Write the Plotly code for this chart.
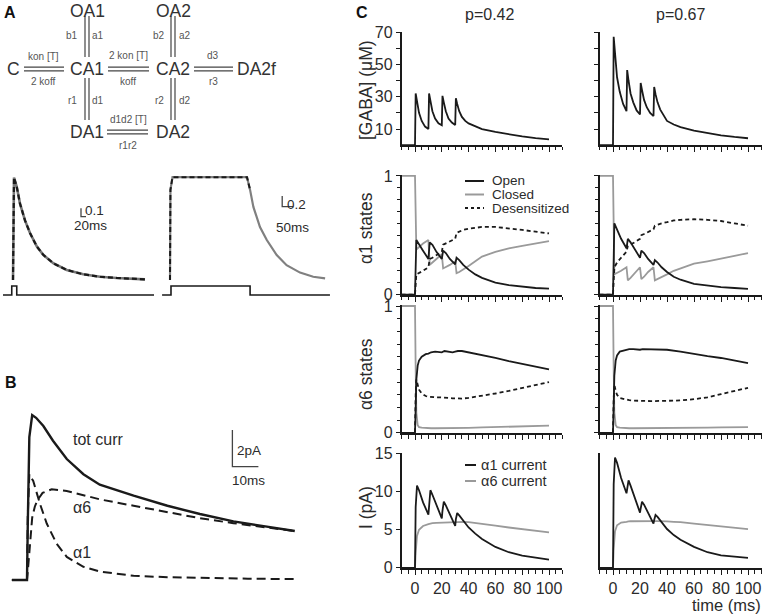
import plotly.graph_objects as go

W, H = 767, 616

# ---------------- Panel C data (time in ms) ----------------
T_GABA = [-10, 0, 0.5, 1.5, 3, 5, 7.5, 10, 10.5, 11.5, 13, 15, 17.5, 20, 20.5, 21.5, 23, 25, 27.5, 30,
          30.5, 31.5, 33, 35, 37.5, 40, 45, 50, 60, 70, 80, 90, 100]
GABA_P042 = [0, 0, 32, 27, 20, 15, 11.5, 10, 32, 27.5, 21, 16.5, 13.5, 12.3, 30.5, 26.5, 21, 16.5, 14, 12.5,
             29, 25.5, 21, 17.5, 15, 13.5, 11.5, 10, 8.2, 6.6, 5.4, 4.4, 3.6]
GABA_P067 = [0, 0, 67, 55, 42, 33, 25.5, 21, 46.5, 40, 32, 26.5, 21.5, 19, 38.5, 34, 28, 23.5, 20, 18,
             36, 31.5, 26.5, 22, 18.5, 15, 12.8, 11.2, 9.0, 7.4, 6.1, 5.1, 4.3]

T_A1 = [-10, 0, 1, 3, 6, 10, 11, 13, 16, 20, 21, 23, 26, 30, 31, 33, 36, 40, 45, 50, 60, 70, 80, 90, 100]
OPEN_A1_P042 = [0, 0, 0.46, 0.42, 0.37, 0.30, 0.44, 0.42, 0.36, 0.30, 0.37, 0.35, 0.30, 0.255, 0.31, 0.29, 0.25,
                0.21, 0.17, 0.14, 0.10, 0.08, 0.065, 0.055, 0.05]
CLOSED_A1_P042 = [1, 1, 0.38, 0.40, 0.43, 0.46, 0.25, 0.27, 0.30, 0.34, 0.22, 0.23, 0.25, 0.28, 0.18, 0.19, 0.21,
                  0.24, 0.28, 0.32, 0.36, 0.39, 0.41, 0.43, 0.45]
DES_A1_P042 = [0, 0, 0.17, 0.18, 0.20, 0.23, 0.30, 0.31, 0.33, 0.36, 0.42, 0.43, 0.45, 0.47, 0.52, 0.53, 0.545,
               0.555, 0.565, 0.57, 0.57, 0.56, 0.545, 0.53, 0.515]
OPEN_A1_P067 = [0, 0, 0.60, 0.55, 0.47, 0.39, 0.47, 0.44, 0.38, 0.31, 0.37, 0.35, 0.30, 0.25, 0.29, 0.27, 0.23,
                0.19, 0.15, 0.125, 0.09, 0.075, 0.063, 0.055, 0.047]
CLOSED_A1_P067 = [1, 1, 0.17, 0.18, 0.20, 0.23, 0.12, 0.14, 0.18, 0.23, 0.13, 0.15, 0.19, 0.23, 0.12, 0.13, 0.15,
                  0.17, 0.20, 0.22, 0.26, 0.28, 0.30, 0.325, 0.35]
DES_A1_P067 = [0, 0, 0.23, 0.27, 0.31, 0.36, 0.41, 0.42, 0.44, 0.47, 0.50, 0.51, 0.53, 0.55, 0.58, 0.59, 0.60,
               0.61, 0.625, 0.63, 0.635, 0.63, 0.62, 0.60, 0.58]

T_A6 = [-10, 0, 0.5, 1, 2, 3, 5, 8, 10, 12, 15, 18, 20, 22, 25, 28, 30, 32, 35, 40, 50, 60, 70, 80, 90, 100]
OPEN_A6_P042 = [0, 0, 0.2, 0.42, 0.53, 0.57, 0.60, 0.62, 0.625, 0.635, 0.64, 0.635, 0.635, 0.645, 0.64, 0.635,
                0.64, 0.645, 0.645, 0.635, 0.615, 0.59, 0.565, 0.545, 0.52, 0.50]
DES_A6_P042 = [0, 0, 0.3, 0.42, 0.38, 0.34, 0.31, 0.29, 0.285, 0.282, 0.28, 0.28, 0.28, 0.278, 0.275, 0.272,
               0.27, 0.27, 0.27, 0.275, 0.29, 0.31, 0.33, 0.355, 0.38, 0.40]
CLOSED_A6_P042 = [1, 1, 0.5, 0.16, 0.06, 0.045, 0.04, 0.037, 0.036, 0.036, 0.036, 0.036, 0.036, 0.036, 0.037,
                  0.037, 0.037, 0.037, 0.038, 0.039, 0.042, 0.045, 0.048, 0.051, 0.054, 0.057]
OPEN_A6_P067 = [0, 0, 0.22, 0.45, 0.57, 0.61, 0.64, 0.65, 0.655, 0.66, 0.66, 0.655, 0.655, 0.66, 0.66, 0.655,
                0.655, 0.66, 0.66, 0.655, 0.64, 0.62, 0.605, 0.59, 0.57, 0.55]
DES_A6_P067 = [0, 0, 0.27, 0.38, 0.33, 0.30, 0.275, 0.265, 0.26, 0.257, 0.254, 0.252, 0.25, 0.25, 0.25, 0.25,
               0.25, 0.25, 0.25, 0.25, 0.255, 0.265, 0.28, 0.305, 0.33, 0.355]
CLOSED_A6_P067 = [1, 1, 0.5, 0.16, 0.06, 0.045, 0.04, 0.037, 0.036, 0.036, 0.036, 0.036, 0.036, 0.036, 0.037,
                  0.037, 0.037, 0.037, 0.037, 0.038, 0.039, 0.04, 0.041, 0.042, 0.043, 0.044]

T_I = [-10, 0, 0.5, 1.5, 3, 6, 10, 10.5, 11.5, 13, 16, 20, 20.5, 21.5, 23, 26, 30, 30.5, 31.5, 33, 36, 40,
       45, 50, 60, 70, 80, 90, 100]
I_A1_P042 = [0, 0, 8, 10.8, 10.2, 8.6, 7.0, 8.5, 10.2, 9.6, 8.2, 6.5, 7.5, 8.7, 8.2, 7.0, 5.5, 6.4, 7.2, 6.9,
             6.2, 5.3, 4.5, 3.8, 2.75, 2.05, 1.6, 1.3, 1.08]
I_A6_P042 = [0, 0, 2.0, 4.2, 5.0, 5.5, 5.75, 5.78, 5.82, 5.87, 5.92, 5.95, 5.95, 5.97, 5.98, 6.0, 6.0, 6.0,
             6.02, 6.03, 6.03, 6.0, 5.9, 5.8, 5.55, 5.3, 5.1, 4.9, 4.65]
I_A1_P067 = [0, 0, 11, 14.5, 13.8, 11.8, 9.8, 10.5, 11.5, 10.8, 9.2, 7.25, 7.8, 8.7, 8.3, 7.2, 5.8, 6.3, 6.95,
             6.7, 6.0, 5.1, 4.3, 3.7, 2.75, 2.05, 1.65, 1.45, 1.3]
I_A6_P067 = [0, 0, 2.5, 4.8, 5.6, 5.95, 6.05, 6.08, 6.1, 6.12, 6.14, 6.15, 6.15, 6.15, 6.15, 6.15, 6.15, 6.15,
             6.15, 6.15, 6.15, 6.1, 6.05, 6.0, 5.8, 5.6, 5.45, 5.25, 5.08]

C_TITLES = ["p=0.42", "p=0.67"]
C_YTITLES = ["[GABA] (\u03bcM)", "\u03b11 states", "\u03b16 states", "I (pA)"]
X_TICKS = [0, 20, 40, 60, 80, 100]

# ---------------- Panel B data ----------------
T_B_TOT = [-5.8, 0, 0.3, 0.9, 2.0, 3.5, 6.3, 10, 15.3, 21.7, 28, 41, 54, 66.5, 79.4, 92, 103]
I_B_TOT = [0, 0, 3, 7.8, 9.0, 8.85, 8.4, 7.6, 6.6, 5.77, 5.2, 4.6, 4.05, 3.6, 3.2, 2.92, 2.67]
T_B_A6 = [-5.8, 0, 0.5, 1, 2, 3, 4, 6, 9.5, 15.3, 28, 41, 54, 66.5, 79.4, 92, 103]
I_B_A6 = [0, 0, 0.8, 1.8, 3.4, 4.0, 4.35, 4.75, 4.95, 4.86, 4.4, 4.05, 3.69, 3.37, 3.1, 2.88, 2.67]
T_B_A1 = [-5.8, 0, 0.3, 0.9, 2.4, 5, 7.6, 11.4, 15.3, 21.7, 28, 41, 54, 70, 85, 103]
I_B_A1 = [0, 0, 3.5, 5.77, 5.4, 4.15, 3.08, 1.98, 1.26, 0.72, 0.46, 0.23, 0.15, 0.1, 0.07, 0.05]
SCALE_B = (79, 6.18, 10, 2)  # t0, v0, dt (ms), dv (pA)

# ---------------- Panel A data ----------------
T_A_BRIEF = [0, 4, 15, 28, 48, 68, 95, 121, 161, 215, 281, 348, 415, 528]
V_A_BRIEF = [0, 1.22, 1.11, 0.91, 0.71, 0.56, 0.40, 0.30, 0.20, 0.12, 0.068, 0.039, 0.024, 0.008]
STIM_BRIEF_T = [-40, -5, -5, 15, 15, 564]
STIM_BRIEF_V = [0, 0, 1, 1, 0, 0]
SCALE_A_BRIEF = (272, 0.754, 20, 0.1)

T_A_LONG = [0, 2, 11.4, 350, 364, 379, 409, 440, 485, 530, 591, 651, 705]
V_A_LONG = [0, 1.7, 1.94, 1.94, 1.70, 1.38, 1.00, 0.755, 0.47, 0.28, 0.14, 0.062, 0.032]
STIM_LONG_T = [-36, 4.5, 4.5, 364, 364, 727]
STIM_LONG_V = [0, 0, 1, 1, 0, 0]
SCALE_A_LONG = (510, 1.383, 50, 0.2)

# kinetic scheme
STATES = [("OA1", 87, 11), ("OA2", 173, 11), ("C", 13, 69), ("CA1", 87, 69), ("CA2", 173, 69),
          ("DA2f", 256, 69), ("DA1", 87, 132), ("DA2", 173, 132)]
RATES = [("kon [T]", 43, 56), ("2 koff", 43, 82), ("2 kon [T]", 128, 55), ("koff", 128, 82),
         ("d3", 213, 55), ("r3", 213, 82), ("b1", 72, 36), ("a1", 98, 36), ("b2", 159, 36),
         ("a2", 185, 36), ("r1", 72, 100), ("d1", 98, 100), ("r2", 159, 100), ("d2", 185, 100),
         ("d1d2 [T]", 128, 120), ("r1r2", 128, 145)]
H_LINKS = [(24, 64, 69), (108, 149, 69), (194, 233, 69), (107, 148, 132)]
V_LINKS = [(87, 16, 57), (87, 78, 120), (173, 16, 57), (173, 78, 120)]

# ---------------- styling ----------------
FONT = "Liberation Sans, Arial, sans-serif"
TXT = "#2b2b2b"
BLACK = "#1a1a1a"
GRAY = "#9a9a9a"


def px(x):
    return x / W


def py(y):
    return 1 - y / H


fig = go.Figure()
layout = dict(width=W, height=H, margin=dict(l=0, r=0, t=0, b=0), template="none",
              paper_bgcolor="white", plot_bgcolor="rgba(0,0,0,0)", showlegend=False,
              font=dict(family=FONT, color=TXT, size=14))

COLS = [(401.6, 562.4), (599.5, 761.5)]
ROWS = [(32, 145.2, [0, 70]), (175, 295, [-0.004, 1.008]), (305, 433.3, [-0.004, 1.008]),
        (453.3, 568.3, [-0.06, 15.05])]

panel_series = [
    [[(T_GABA, GABA_P042, BLACK, None)], [(T_GABA, GABA_P067, BLACK, None)]],
    [[(T_A1, CLOSED_A1_P042, GRAY, None), (T_A1, DES_A1_P042, BLACK, "4px,3px"), (T_A1, OPEN_A1_P042, BLACK, None)],
     [(T_A1, CLOSED_A1_P067, GRAY, None), (T_A1, DES_A1_P067, BLACK, "4px,3px"), (T_A1, OPEN_A1_P067, BLACK, None)]],
    [[(T_A6, CLOSED_A6_P042, GRAY, None), (T_A6, DES_A6_P042, BLACK, "4px,3px"), (T_A6, OPEN_A6_P042, BLACK, None)],
     [(T_A6, CLOSED_A6_P067, GRAY, None), (T_A6, DES_A6_P067, BLACK, "4px,3px"), (T_A6, OPEN_A6_P067, BLACK, None)]],
    [[(T_I, I_A6_P042, GRAY, None), (T_I, I_A1_P042, BLACK, None)],
     [(T_I, I_A6_P067, GRAY, None), (T_I, I_A1_P067, BLACK, None)]],
]

tickfont = dict(family=FONT, size=16, color=TXT)
for r, (ytop, ybot, yr) in enumerate(ROWS):
    for c, (x0, x1) in enumerate(COLS):
        idx = r * 2 + c + 1
        xs = "" if idx == 1 else str(idx)
        layout["xaxis" + xs] = dict(
            domain=[px(x0), px(x1)], range=[-10, 110], anchor="y" + xs,
            showline=True, linecolor=BLACK, linewidth=1.5, mirror=False,
            ticks="outside", tickcolor=BLACK, tickwidth=1.2, ticklen=5,
            tickmode="array", tickvals=X_TICKS, showticklabels=(r == 3), tickfont=tickfont,
            showgrid=False, zeroline=False,
            minor=dict(ticks="outside", tick0=0, dtick=5, ticklen=3.5, tickcolor=BLACK,
                       tickwidth=1.1, showgrid=False))
        ya = dict(domain=[py(ybot), py(ytop)], range=yr, anchor="x" + xs,
                  showline=True, linecolor=BLACK, linewidth=1.5,
                  tickcolor=BLACK, tickwidth=1.2, ticklen=4, tickfont=tickfont,
                  showgrid=False, zeroline=False, showticklabels=(c == 0))
        if r == 0:
            ya.update(ticks="outside", tickmode="array", tickvals=[10, 30, 50, 70],
                      minor=dict(ticks="outside", tickvals=[20, 40, 60], ticklen=4, tickcolor=BLACK,
                                 tickwidth=1.2, showgrid=False))
        elif r in (1, 2):
            ya.update(ticks="outside", tickmode="array", tickvals=[0, 1],
                      minor=dict(ticks="outside", tick0=0, dtick=0.1, ticklen=3, tickcolor=BLACK,
                                 tickwidth=1.0, showgrid=False))
        else:
            if c == 0:
                ya.update(ticks="outside", tickmode="array", tickvals=[0, 5, 10, 15])
            else:
                ya.update(ticks="", showticklabels=False)
        layout["yaxis" + xs] = ya
        for (t, v, col, dash) in panel_series[r][c]:
            fig.add_trace(go.Scatter(x=t, y=v, mode="lines", xaxis="x" + xs, yaxis="y" + xs,
                                     line=dict(color=col, width=1.8, dash=dash), hoverinfo="skip"))

# ----- hidden axes for panels A and B -----
hidden = dict(visible=False, showgrid=False, zeroline=False)
layout["xaxis9"] = dict(domain=[px(0), px(160)], range=[-52, 588], anchor="y9", **hidden)
layout["yaxis9"] = dict(domain=[py(300), py(170)], range=[-0.238, 1.310], anchor="x9", **hidden)
layout["yaxis10"] = dict(domain=[py(300), py(280)], range=[-0.556, 1.667], anchor="x9", **hidden)
layout["xaxis10"] = dict(domain=[px(160), px(340)], range=[-45.45, 772.7], anchor="y11", **hidden)
layout["yaxis11"] = dict(domain=[py(300), py(170)], range=[-0.377, 2.075], anchor="x10", **hidden)
layout["yaxis12"] = dict(domain=[py(300), py(280)], range=[-0.556, 1.667], anchor="x10", **hidden)
layout["xaxis11"] = dict(domain=[px(0), px(310)], range=[-10.38, 108.85], anchor="y13", **hidden)
layout["yaxis13"] = dict(domain=[py(600), py(395)], range=[-1.091, 10.093], anchor="x11", **hidden)


def line(x, y, xa, ya, color, width, dash=None):
    fig.add_trace(go.Scatter(x=x, y=y, mode="lines", xaxis=xa, yaxis=ya,
                             line=dict(color=color, width=width, dash=dash), hoverinfo="skip"))


def scalebar(sb, xa, ya):
    t0, v0, dt, dv = sb
    line([t0, t0, t0 + dt], [v0 + dv, v0, v0], xa, ya, "#444444", 1.3)


line(T_A_BRIEF, V_A_BRIEF, "x9", "y9", "#777777", 2.6)
line(T_A_BRIEF, V_A_BRIEF, "x9", "y9", BLACK, 2.2, "5px,3px")
line(STIM_BRIEF_T, STIM_BRIEF_V, "x9", "y10", BLACK, 1.6)
scalebar(SCALE_A_BRIEF, "x9", "y9")
line(T_A_LONG, V_A_LONG, "x10", "y11", "#808080", 2.2)
line(T_A_LONG[:5], V_A_LONG[:5], "x10", "y11", BLACK, 2.0, "5px,3px")
line(STIM_LONG_T, STIM_LONG_V, "x10", "y12", BLACK, 1.6)
scalebar(SCALE_A_LONG, "x10", "y11")
line(T_B_A1, I_B_A1, "x11", "y13", BLACK, 2.0, "9px,5px")
line(T_B_A6, I_B_A6, "x11", "y13", BLACK, 2.0, "9px,5px")
line(T_B_TOT, I_B_TOT, "x11", "y13", BLACK, 2.4)
scalebar(SCALE_B, "x11", "y13")

# ----- shapes (kinetic scheme links, legend samples) -----
shapes = []
for (x0, x1, yc) in H_LINKS:
    for d in (-1.8, 1.8):
        shapes.append(dict(type="line", xref="paper", yref="paper", x0=px(x0), x1=px(x1),
                           y0=py(yc + d), y1=py(yc + d), line=dict(color="#444444", width=1.2)))
for (xc, y0, y1) in V_LINKS:
    for d in (-2, 2):
        shapes.append(dict(type="line", xref="paper", yref="paper", x0=px(xc + d), x1=px(xc + d),
                           y0=py(y0), y1=py(y1), line=dict(color="#444444", width=1.2)))

LEG_A1 = [("Open", BLACK, "solid", 181), ("Closed", GRAY, "solid", 194.5), ("Desensitized", BLACK, "dot", 208)]
LEG_I = [("\u03b11 current", BLACK, "solid", 465), ("\u03b16 current", GRAY, "solid", 481)]
annotations = []
for (txt, col, dash, yy) in LEG_A1:
    shapes.append(dict(type="line", xref="paper", yref="paper", x0=px(465), x1=px(484), y0=py(yy), y1=py(yy),
                       line=dict(color=col, width=2, dash=dash)))
    annotations.append(dict(text=txt, x=px(490), y=py(yy), xanchor="left", yanchor="middle",
                            font=dict(size=13.5, color=TXT)))
for (txt, col, dash, yy) in LEG_I:
    shapes.append(dict(type="line", xref="paper", yref="paper", x0=px(465), x1=px(476), y0=py(yy), y1=py(yy),
                       line=dict(color=col, width=2, dash=dash)))
    annotations.append(dict(text=txt, x=px(479), y=py(yy), xanchor="left", yanchor="middle",
                            font=dict(size=14.5, color=TXT)))


def ann(text, x, y, size, color=TXT, bold=False, xanchor="center", angle=0):
    annotations.append(dict(text=("<b>%s</b>" % text) if bold else text, x=px(x), y=py(y),
                            xref="paper", yref="paper", showarrow=False, xanchor=xanchor,
                            yanchor="middle", textangle=angle, font=dict(size=size, color=color)))


for (n, x, y) in STATES:
    ann(n, x, y, 17.5, "#333333")
for (n, x, y) in RATES:
    ann(n, x, y, 10, "#555555")

ann("A", 10, 13, 16, "#111111", bold=True)
ann("B", 11, 382, 16, "#111111", bold=True)
ann("C", 362, 13, 16, "#111111", bold=True)
ann("0.1", 94, 211, 13.5)
ann("20ms", 90.5, 225, 13.5)
ann("0.2", 296, 204, 13.5)
ann("50ms", 292.5, 228, 13.5)
ann("tot curr", 98, 439, 16)
ann("\u03b16", 82, 507, 16)
ann("\u03b11", 82, 552, 16)
ann("2pA", 249, 450, 13.5)
ann("10ms", 248, 480, 13.5)
ann(C_TITLES[0], 490, 15, 16)
ann(C_TITLES[1], 680, 15, 16)
for (txt, yy) in zip(C_YTITLES, [90, 228, 374, 508]):
    ann(txt, 366, yy, 17.5, angle=-90)
ann("time (ms)", 763, 605, 16.5, xanchor="right")

for a in annotations:
    a.setdefault("xref", "paper")
    a.setdefault("yref", "paper")
    a.setdefault("showarrow", False)

layout["shapes"] = shapes
layout["annotations"] = annotations
fig.update_layout(**layout)
fig.write_html("out.html", config={"displayModeBar": False},
               post_script="document.body.style.margin='0px';document.body.style.padding='0px';")
